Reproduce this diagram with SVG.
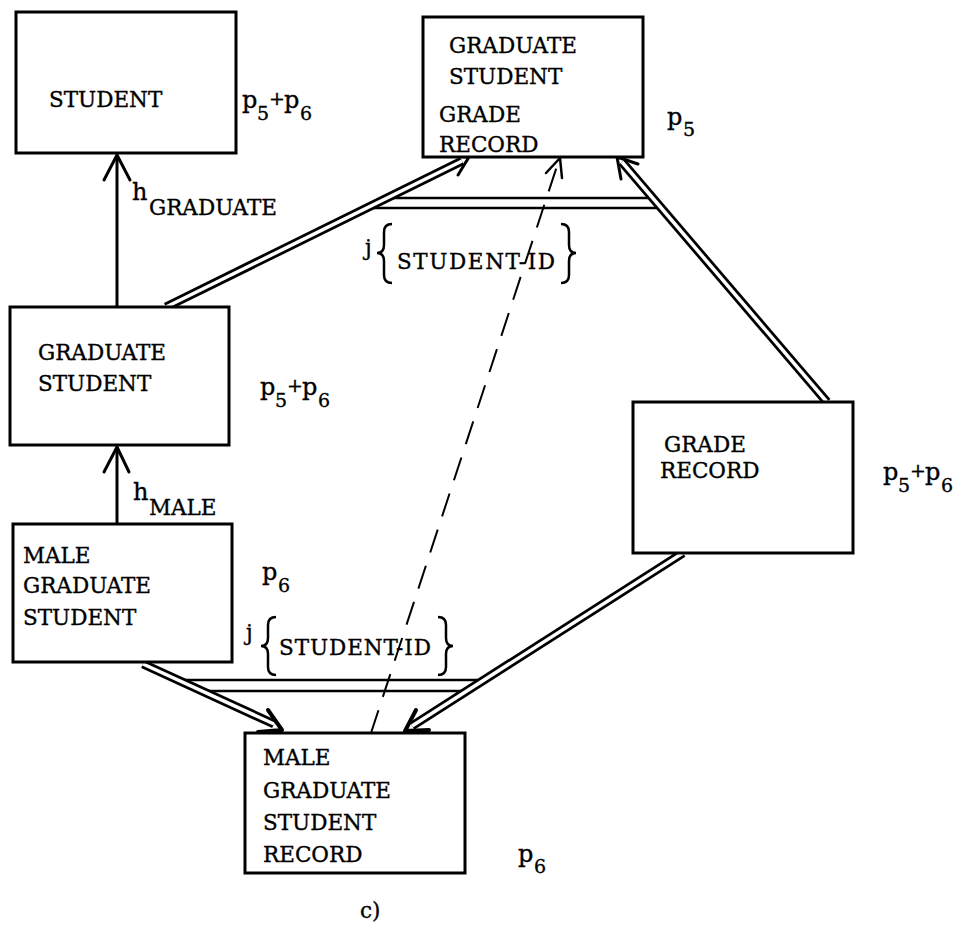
<svg xmlns="http://www.w3.org/2000/svg" width="965" height="930" viewBox="0 0 965 930">
<style>
.box{fill:#fff;stroke:#000;stroke-width:3}
.t{font-family:"DejaVu Serif","Liberation Serif",serif;font-size:21.5px;fill:#000;stroke:#000;stroke-width:0.35}
.lb{font-family:"DejaVu Serif","Liberation Serif",serif;font-size:24px;fill:#000;stroke:#000;stroke-width:0.35}
.sub{font-size:19px}
.ln{stroke:#000;stroke-width:3;fill:none}
.head{stroke:#000;stroke-width:3;fill:none;stroke-linecap:round;stroke-linejoin:round}
.headb{stroke:#000;stroke-width:4;fill:none;stroke-linecap:round;stroke-linejoin:round}
.dblo{stroke:#000;stroke-width:9;fill:none}
.dbli{stroke:#fff;stroke-width:3.5;fill:none}
.join{stroke:#000;stroke-width:2.5;fill:none}
.dash{stroke:#000;stroke-width:2;fill:none;stroke-dasharray:24 14}
.brace{stroke:#000;stroke-width:2.5;fill:none}
</style>
<rect width="965" height="930" fill="#fff"/>

<g id="connectors">
  <line class="join" x1="385" y1="198" x2="654" y2="198"/>
  <line class="join" x1="365" y1="208" x2="663" y2="208"/>
  <line class="join" x1="177" y1="680" x2="485" y2="680"/>
  <line class="join" x1="200" y1="691" x2="468" y2="691"/>
  <line class="dblo" x1="166" y1="307" x2="462" y2="161"/>
  <line class="dbli" x1="166" y1="307" x2="462" y2="161"/>
  <polyline class="head" points="448,156 469,157 458,175"/>
  <line class="dblo" x1="827" y1="402" x2="622" y2="162"/>
  <line class="dbli" x1="827" y1="402" x2="622" y2="162"/>
  <polyline class="head" points="621,179 617,157 638,164"/>
  <line class="dblo" x1="143" y1="664" x2="274" y2="724"/>
  <line class="dbli" x1="143" y1="664" x2="274" y2="724"/>
  <polyline class="headb" points="268,710 282,730 258,732"/>
  <line class="dblo" x1="683" y1="553" x2="412" y2="726"/>
  <line class="dbli" x1="683" y1="553" x2="412" y2="726"/>
  <polyline class="headb" points="416,710 405,731 429,730"/>
  <line class="ln" x1="117" y1="307" x2="117" y2="155"/>
  <polyline class="head" points="104,180 117,155 130,180"/>
  <line class="ln" x1="117" y1="524" x2="117" y2="447"/>
  <polyline class="head" points="104,472 117,447 129,472"/>
  <line class="dash" x1="371" y1="733" x2="559" y2="160"/>
  <polyline class="head" style="stroke-width:2.5" points="546,173 560,158 562,178"/>
</g>

<g id="student">
  <rect class="box" x="16" y="12" width="220" height="141"/>
  <text class="t" x="49" y="107">STUDENT</text>
</g>
<g id="gsgr">
  <rect class="box" x="423" y="17" width="220" height="140"/>
  <text class="t" x="449" y="53">GRADUATE</text>
  <text class="t" x="449" y="84">STUDENT</text>
  <text class="t" x="439" y="122">GRADE</text>
  <text class="t" x="439" y="152">RECORD</text>
</g>
<g id="gs">
  <rect class="box" x="10" y="307" width="219" height="138"/>
  <text class="t" x="38" y="360">GRADUATE</text>
  <text class="t" x="38" y="391">STUDENT</text>
</g>
<g id="mgs">
  <rect class="box" x="13" y="524" width="219" height="138"/>
  <text class="t" x="23" y="563">MALE</text>
  <text class="t" x="23" y="593">GRADUATE</text>
  <text class="t" x="23" y="625">STUDENT</text>
</g>
<g id="gr">
  <rect class="box" x="633" y="402" width="220" height="151"/>
  <text class="t" x="664" y="452">GRADE</text>
  <text class="t" x="660" y="478">RECORD</text>
</g>
<g id="mgsr">
  <rect class="box" x="245" y="733" width="220" height="140"/>
  <text class="t" x="263" y="765">MALE</text>
  <text class="t" x="263" y="798">GRADUATE</text>
  <text class="t" x="263" y="830">STUDENT</text>
  <text class="t" x="263" y="862">RECORD</text>
</g>

<g id="labels">
  <text class="lb" x="242" y="108">p<tspan class="sub" x="257" dy="12">5</tspan><tspan class="sub" x="269" dy="-15.5">+</tspan><tspan x="284" dy="3.5">p</tspan><tspan class="sub" x="300" dy="12">6</tspan></text>
  <text class="lb" x="260" y="395">p<tspan class="sub" x="275" dy="12">5</tspan><tspan class="sub" x="287" dy="-15.5">+</tspan><tspan x="302" dy="3.5">p</tspan><tspan class="sub" x="318" dy="12">6</tspan></text>
  <text class="lb" x="883" y="480">p<tspan class="sub" x="898" dy="12">5</tspan><tspan class="sub" x="910" dy="-15.5">+</tspan><tspan x="925" dy="3.5">p</tspan><tspan class="sub" x="941" dy="12">6</tspan></text>
  <text class="lb" x="667" y="125">p<tspan class="sub" x="683" dy="11">5</tspan></text>
  <text class="lb" x="262" y="580">p<tspan class="sub" x="278" dy="12">6</tspan></text>
  <text class="lb" x="518" y="862">p<tspan class="sub" x="534" dy="11">6</tspan></text>
  <text class="lb" x="132" y="200">h<tspan class="t" x="149" dy="15">GRADUATE</tspan></text>
  <text class="lb" x="133" y="500">h<tspan class="t" x="149" dy="15">MALE</tspan></text>

  <text class="t" x="365" y="255">j</text>
  <path class="brace" d="M392 224 Q384 224 384 232 L384 245 Q384 253 377 253 Q384 253 384 261 L384 275 Q384 283 392 283"/>
  <text class="t" x="397" y="269" textLength="158" lengthAdjust="spacing">STUDENT-ID</text>
  <path class="brace" d="M561 224 Q569 224 569 232 L569 245 Q569 253 576 253 Q569 253 569 261 L569 275 Q569 283 561 283"/>

  <text class="t" x="246" y="640">j</text>
  <path class="brace" d="M276 617 Q268 617 268 625 L268 638 Q268 646 261 646 Q268 646 268 654 L268 667 Q268 675 276 675"/>
  <text class="t" x="279" y="655" textLength="152" lengthAdjust="spacing">STUDENT-ID</text>
  <path class="brace" d="M438 617 Q446 617 446 625 L446 638 Q446 646 453 646 Q446 646 446 654 L446 667 Q446 675 438 675"/>

  <text class="t" x="360" y="918">c)</text>
</g>
</svg>
